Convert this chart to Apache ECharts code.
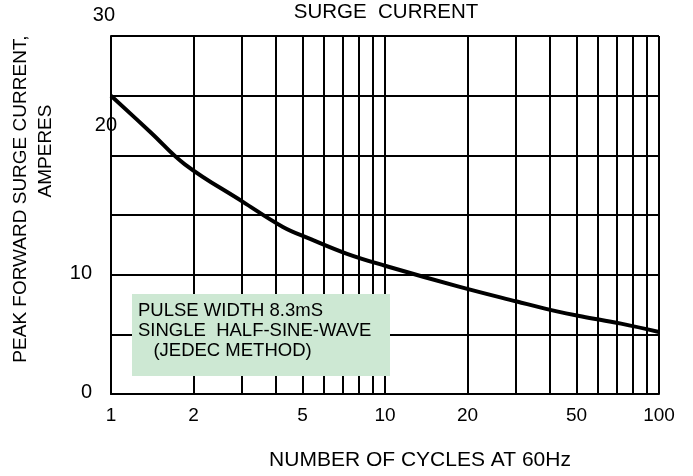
<!DOCTYPE html>
<html>
<head>
<meta charset="utf-8">
<script src="https://cdn.jsdelivr.net/npm/echarts@6/dist/echarts.min.js"></script>
<style>
  html, body { margin: 0; padding: 0; background: #fff; }
  #chart { width: 693px; height: 476px; }
</style>
</head>
<body>
<div id="chart"></div>
<script>
// curve
const cycles = [1, 1.4, 1.86, 3.03, 4.24, 5.33, 7.27, 10, 18.6, 30.3, 42.8, 52.4, 72.7, 100];
const current = [25, 21.9, 19.25, 16.1, 14, 13, 11.75, 10.75, 9, 7.75, 6.9, 6.5, 5.9, 5.2];

// grid lines and labels on the log axis
const gridCycles = [1, 2, 3, 4, 5, 6, 7, 8, 9, 10, 20, 30, 40, 50, 60, 70, 80, 90, 100];
const cycleLabels = [1, 2, 5, 10, 20, 50, 100];
const currentLabels = [0, 10, 20, 30];

const noteLines = ['PULSE WIDTH 8.3mS', 'SINGLE  HALF-SINE-WAVE', '   (JEDEC METHOD)'];

const FONT = '"Liberation Sans", Arial, sans-serif';
const chart = echarts.init(document.getElementById('chart'));

chart.setOption({
  animation: false,
  title: {
    text: 'SURGE  CURRENT',
    left: 386,
    top: 2,
    padding: 0,
    textAlign: 'center',
    textStyle: {fontFamily: FONT, fontSize: 20.5, fontWeight: 'normal', color: '#000'}
  },
  grid: {left: 111, right: 34, top: 36, bottom: 80},
  xAxis: {
    type: 'log',
    logBase: 10,
    min: 1,
    max: 100,
    name: 'NUMBER OF CYCLES AT 60Hz',
    nameLocation: 'middle',
    nameGap: 56,
    nameTextStyle: {fontFamily: FONT, fontSize: 21, color: '#000', padding: [0, 0, 0, 70]},
    axisLine: {show: true, lineStyle: {color: '#000', width: 2}},
    axisTick: {show: false, customValues: gridCycles},
    axisLabel: {
      customValues: cycleLabels,
      margin: 12,
      fontFamily: FONT,
      fontSize: 19,
      color: '#000'
    },
    splitLine: {show: true, lineStyle: {color: '#000', width: 2}},
    minorSplitLine: {show: false}
  },
  yAxis: [
    {
      type: 'value',
      min: 0,
      max: 30,
      interval: 5,
      name: 'PEAK FORWARD SURGE CURRENT,',
      nameLocation: 'middle',
      nameGap: 81,
      nameTextStyle: {fontFamily: FONT, fontSize: 19, color: '#000', padding: [0, 0, 0, 32]},
      axisLine: {show: true, lineStyle: {color: '#000', width: 2}},
      axisTick: {show: false},
      axisLabel: {
        margin: -6,
        fontFamily: FONT,
        fontSize: 20,
        color: '#000',
        formatter: v => {
          if (!currentLabels.includes(v)) return '';
          if (v === 30) return '{t|' + v + '}';
          if (v === 20) return '{m|' + v + '}';
          return '{b|' + v + '}';
        },
        rich: {
          t: {fontFamily: FONT, fontSize: 20, color: '#000', padding: [0, 2, 42, 0]},
          m: {fontFamily: FONT, fontSize: 20, color: '#000', padding: [0, 0, 60, 0]},
          b: {fontFamily: FONT, fontSize: 20, color: '#000', padding: [0, 25, 3, 0]}
        }
      },
      splitLine: {show: true, lineStyle: {color: '#000', width: 2}}
    },
    {
      type: 'value',
      min: 0,
      max: 30,
      position: 'left',
      name: 'AMPERES',
      nameLocation: 'middle',
      nameGap: 56,
      nameTextStyle: {fontFamily: FONT, fontSize: 19, color: '#000', padding: [0, 0, 0, 128]},
      axisLine: {show: false},
      axisTick: {show: false},
      axisLabel: {show: false},
      splitLine: {show: false}
    }
  ],
  graphic: [
    {
      type: 'group',
      left: 132,
      top: 294,
      z: 100,
      children: [
        {
          type: 'rect',
          z: 100,
          shape: {x: 0, y: 0, width: 258, height: 82},
          style: {fill: '#cde8d3'}
        },
        {
          type: 'text',
          z: 101,
          x: 6,
          y: 7,
          style: {
            text: noteLines.join('\n'),
            font: '18.5px ' + FONT,
            lineHeight: 20,
            fill: '#000'
          }
        }
      ]
    }
  ],
  series: [
    {
      type: 'line',
      data: cycles.map((c, i) => [c, current[i]]),
      showSymbol: false,
      smooth: 0.4,
      lineStyle: {color: '#000', width: 4},
      z: 10
    }
  ]
});
</script>
</body>
</html>
